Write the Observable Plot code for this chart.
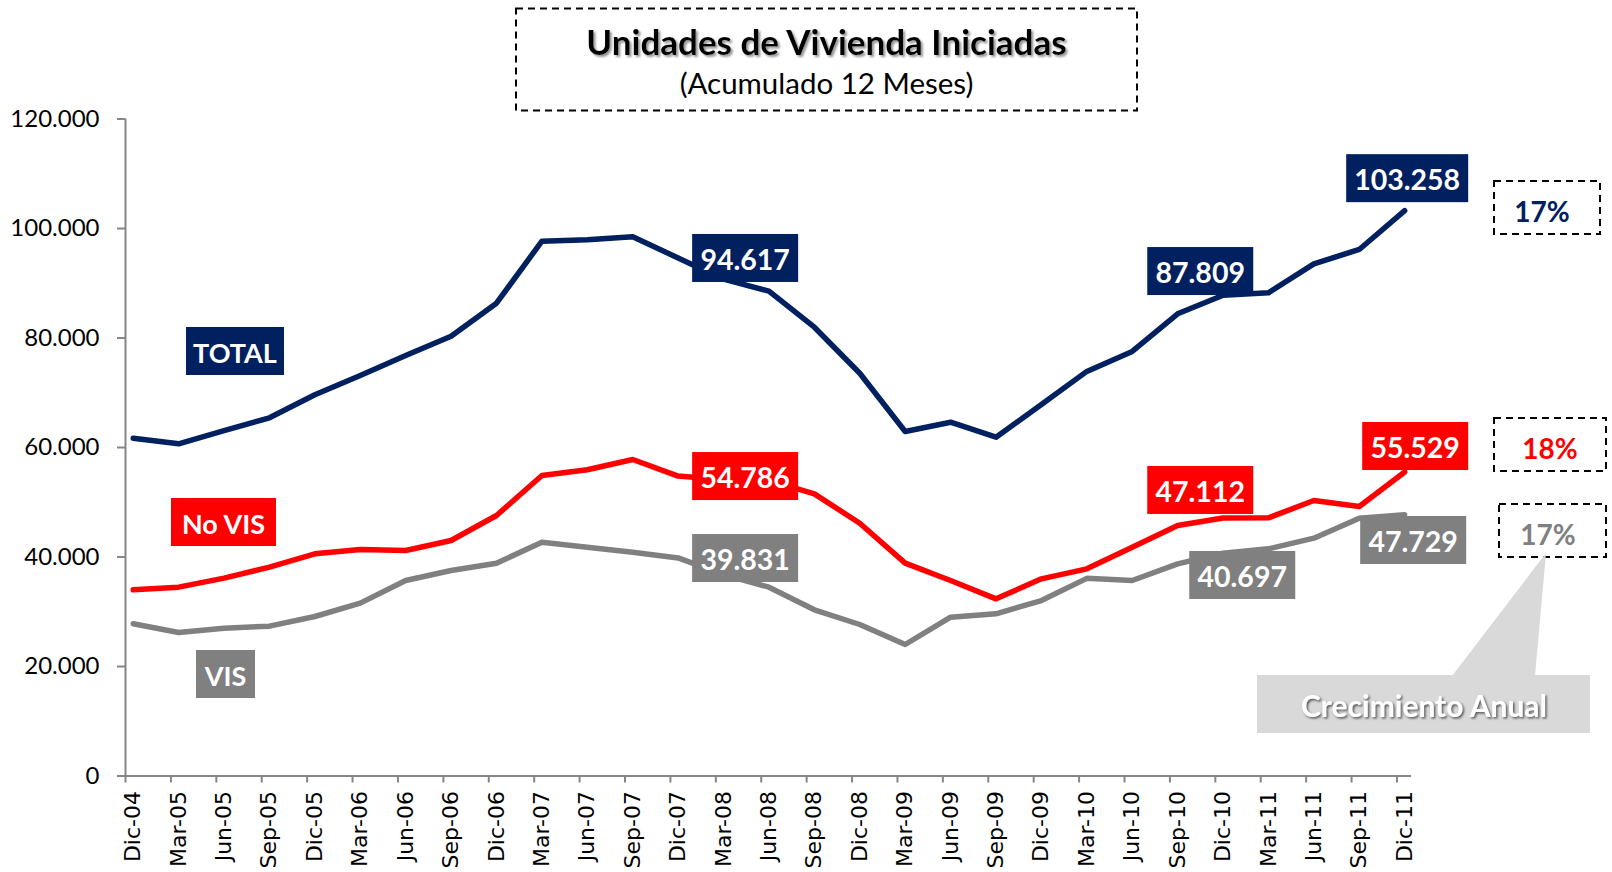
<!DOCTYPE html>
<html>
<head>
<meta charset="utf-8">
<script src="https://cdn.jsdelivr.net/npm/d3@7"></script>
<script src="https://cdn.jsdelivr.net/npm/@observablehq/plot@0.6"></script>
<style>
  html, body { margin: 0; padding: 0; background: #fff; }
  #chart svg { display: block; }
</style>
</head>
<body>
<div id="chart"></div>
<script>
// ---------------- data ----------------
const xLabels = ["Dic-04","Mar-05","Jun-05","Sep-05","Dic-05","Mar-06","Jun-06","Sep-06","Dic-06","Mar-07","Jun-07","Sep-07","Dic-07","Mar-08","Jun-08","Sep-08","Dic-08","Mar-09","Jun-09","Sep-09","Dic-09","Mar-10","Jun-10","Sep-10","Dic-10","Mar-11","Jun-11","Sep-11","Dic-11"];
const totalValues = [61700,60670,63100,65420,69630,73150,76800,80330,86360,97680,97930,98500,94617,90740,88550,81970,73570,62920,64620,61880,67850,73900,77540,84420,87809,88250,93550,96170,103258];
const noVisValues = [34010,34490,36140,38150,40580,41370,41190,43010,47580,54890,55930,57810,54786,54100,54000,51540,46170,38870,35710,32360,36010,37840,41790,45750,47112,47150,50320,49220,55529];
const visValues   = [27800,26210,27000,27370,29130,31570,35710,37540,38870,42700,41790,40880,39831,36800,34490,30350,27670,24020,29010,29620,32050,36100,35710,38750,40697,41490,43440,47090,47729];
const seriesNames = ["TOTAL","No VIS","VIS"];
const seriesColors = ["#002060","#FF0000","#808080"];
const yTicks = [0,20000,40000,60000,80000,100000,120000];
const growthLabels = ["17%","18%","17%"];
const titleText = "Unidades de Vivienda Iniciadas";
const subtitleText = "(Acumulado 12 Meses)";
const calloutText = "Crecimiento Anual";

// value labels: which series / which point
const valueLabels = [
  {series: 0, i: 12}, {series: 0, i: 24}, {series: 0, i: 28},
  {series: 1, i: 12}, {series: 1, i: 24}, {series: 1, i: 28},
  {series: 2, i: 12}, {series: 2, i: 24}, {series: 2, i: 28}
];
// ---------------- layout (pixels) ----------------
const labelOffsets = [
  [67.5, 0.5], [-22.3, -23.7], [3, -32],
  [67.5, 0.5], [-22.3, -27.6], [11, -25.5],
  [67.5, 0.6], [19.7, 22.3], [9, 25.8]
];

const seriesValues = [totalValues, noVisValues, visValues];
const data = seriesNames.flatMap((s, k) => seriesValues[k].map((v, i) => ({series: s, i, value: v})));
const idx = xLabels.map((_, i) => i);
const fmt = v => v === 0 ? "0" : d3.format(",")(v).replace(/,/g, ".");

const plot = Plot.plot({
  width: 1612,
  height: 872,
  marginLeft: 125,
  marginRight: 201,
  marginTop: 118.5,
  marginBottom: 96.5,
  style: {background: "#fff", color: "#000"},
  x: {type: "linear", domain: [-0.17, 28.15], axis: null},
  y: {domain: [0, 120000], axis: null},
  color: {domain: seriesNames, range: seriesColors},
  marks: [
    Plot.ruleX([-0.17], {stroke: "#868686", strokeWidth: 2}),
    Plot.ruleY([0], {stroke: "#868686", strokeWidth: 2}),
    Plot.axisY({ticks: yTicks, tickSize: 8, tickPadding: 18, tickFormat: fmt, label: null,
      stroke: "#868686", strokeWidth: 2, fill: "#000", fontSize: 24, fontFamily: "Lato"}),
    Plot.axisX({ticks: idx.map(i => i - 0.17), tickSize: 7, tickFormat: () => "", label: null,
      stroke: "#868686", strokeWidth: 2}),
    Plot.axisX({ticks: idx, tickSize: 0, tickPadding: 15, tickRotate: -90, label: null,
      tickFormat: i => xLabels[Math.round(i)], fill: "#000", fontSize: 22, fontFamily: "DejaVu Sans"}),
    Plot.line(data, {x: "i", y: "value", z: "series", stroke: "series", strokeWidth: 5.5,
      strokeLinejoin: "round", strokeLinecap: "round"})
  ]
});
document.getElementById("chart").appendChild(plot);

// ---------------- annotations ----------------
const sx = plot.scale("x"), sy = plot.scale("y");
const svg = d3.select(plot);
const defs = svg.append("defs");
defs.append("filter").attr("id", "tshadow").attr("x", "-10%").attr("y", "-30%").attr("width", "120%").attr("height", "160%")
  .append("feDropShadow").attr("dx", 2).attr("dy", 2).attr("stdDeviation", 1.2).attr("flood-color", "#888").attr("flood-opacity", 0.9);
defs.append("filter").attr("id", "cshadow").attr("x", "-10%").attr("y", "-30%").attr("width", "120%").attr("height", "160%")
  .append("feDropShadow").attr("dx", 1.5).attr("dy", 1.5).attr("stdDeviation", 1).attr("flood-color", "#555").attr("flood-opacity", 1);

const g = svg.append("g").attr("font-family", "Lato");

// title box
g.append("rect").attr("x", 516).attr("y", 8.5).attr("width", 621).attr("height", 102)
  .attr("fill", "none").attr("stroke", "#000").attr("stroke-width", 2).attr("stroke-dasharray", "7,5");
g.append("text").attr("x", 826.5).attr("y", 41).attr("text-anchor", "middle").attr("dominant-baseline", "central")
  .attr("font-weight", "bold").attr("font-size", 35).attr("fill", "#000").attr("filter", "url(#tshadow)").text(titleText);
g.append("text").attr("x", 826.5).attr("y", 82).attr("text-anchor", "middle").attr("dominant-baseline", "central")
  .attr("font-size", 29.5).attr("fill", "#000").text(subtitleText);

// series name boxes
const nameBoxes = [
  {k: 0, x: 186, y: 327, w: 98, h: 48},
  {k: 1, x: 171, y: 498, w: 105, h: 48},
  {k: 2, x: 196, y: 650, w: 59, h: 48}
];
nameBoxes.forEach(b => {
  g.append("rect").attr("x", b.x).attr("y", b.y).attr("width", b.w).attr("height", b.h).attr("fill", seriesColors[b.k]);
  g.append("text").attr("x", b.x + b.w / 2).attr("y", b.y + b.h / 2 + 1).attr("text-anchor", "middle")
    .attr("dominant-baseline", "central").attr("font-weight", "bold").attr("font-size", 27).attr("fill", "#fff")
    .text(seriesNames[b.k]);
});

// value label boxes
valueLabels.forEach((L, n) => {
  const v = seriesValues[L.series][L.i];
  const txt = fmt(v);
  const cx = sx.apply(L.i) + labelOffsets[n][0];
  const cy = sy.apply(v) + labelOffsets[n][1];
  const w = txt.length > 6 ? 122 : 106, h = 48;
  g.append("rect").attr("x", cx - w / 2).attr("y", cy - h / 2).attr("width", w).attr("height", h).attr("fill", seriesColors[L.series]);
  g.append("text").attr("x", cx).attr("y", cy + 1).attr("text-anchor", "middle").attr("dominant-baseline", "central")
    .attr("font-weight", "bold").attr("font-size", 28.5).attr("fill", "#fff").text(txt);
});

// growth boxes
const growthBoxes = [
  {x: 1494, y: 181, w: 106, h: 53, tx: 1542},
  {x: 1494, y: 418, w: 112, h: 53, tx: 1550},
  {x: 1499, y: 504, w: 107, h: 53, tx: 1548}
];
growthBoxes.forEach((b, k) => {
  g.append("rect").attr("x", b.x).attr("y", b.y).attr("width", b.w).attr("height", b.h)
    .attr("fill", "none").attr("stroke", "#000").attr("stroke-width", 2).attr("stroke-dasharray", "7,5");
  g.append("text").attr("x", b.tx).attr("y", b.y + b.h / 2 + 3).attr("text-anchor", "middle").attr("dominant-baseline", "central")
    .attr("font-weight", "bold").attr("font-size", 28).attr("fill", seriesColors[k]).text(growthLabels[k]);
});

// callout
g.append("path").attr("d", "M1452,676 L1546,553 L1535,676 Z").attr("fill", "#D9D9D9");
g.append("rect").attr("x", 1257).attr("y", 675).attr("width", 333).attr("height", 58).attr("fill", "#D9D9D9");
g.append("text").attr("x", 1424).attr("y", 705).attr("text-anchor", "middle").attr("dominant-baseline", "central")
  .attr("font-weight", "bold").attr("font-size", 30).attr("fill", "#fff").attr("filter", "url(#cshadow)").text(calloutText);
</script>
</body>
</html>
